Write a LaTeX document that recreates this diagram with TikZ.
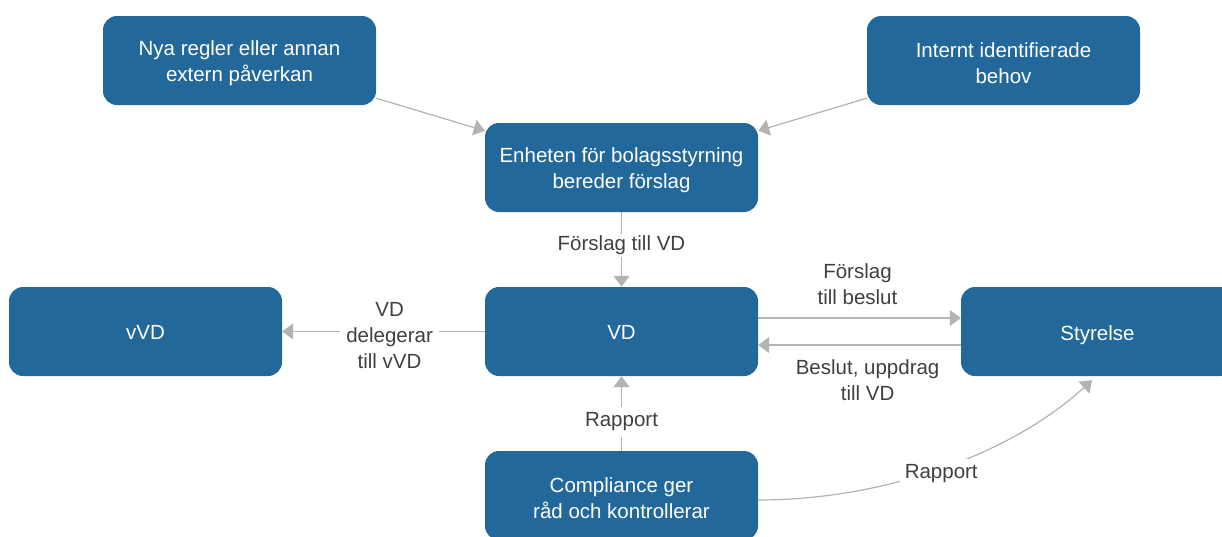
\documentclass[tikz,border=0pt]{standalone}
\usepackage{fontspec}
\setmainfont{Liberation Sans}
\usetikzlibrary{arrows.meta}
\definecolor{boxblue}{HTML}{23689B}
\definecolor{arrgray}{HTML}{B3B3B3}
\definecolor{labgray}{HTML}{404040}
\begin{document}
\begin{tikzpicture}[x=1pt,y=-1pt,
  box/.style={fill=boxblue,rounded corners=14pt,minimum width=273pt,minimum height=89pt,inner sep=0pt},
  btext/.style={text=white,align=center,font=\fontsize{20.5pt}{26pt}\selectfont,inner sep=0pt},
  arr/.style={draw=arrgray,line width=1.2pt,-{Triangle[length=11pt,width=16pt]}},
  lab/.style={fill=white,text=labgray,align=center,font=\fontsize{20.5pt}{26pt}\selectfont,inner sep=2pt}]
\clip (0,0) rectangle (1222,536);
\fill[white] (0,0) rectangle (1222,536);
\node[box] (nya) at (239.5,60.5) {};
\node[btext] (nyaT) at ([yshift=-3pt]nya.center) {Nya regler eller annan\\extern påverkan};
\node[box] (intern) at (1003.5,60.5) {};
\node[btext] (internT) at ([yshift=-3pt]intern.center) {Internt identifierade\\behov};
\node[box] (enh) at (621.5,167.5) {};
\node[btext] (enhT) at ([yshift=-3pt]enh.center) {Enheten för bolagsstyrning\\bereder förslag};
\node[box] (vvd) at (145.5,331.5) {};
\node[btext] (vvdT) at ([yshift=-1pt]vvd.center) {vVD};
\node[box] (vd) at (621.5,331.5) {};
\node[btext] (vdT) at ([yshift=-1pt]vd.center) {VD};
\node[box] (sty) at (1097.5,331.5) {};
\node[btext] (styT) at ([yshift=-4pt]sty.center) {Styrelse};
\node[box] (comp) at (621.5,495.5) {};
\node[btext] (compT) at ([yshift=-3pt]comp.center) {Compliance ger\\råd och kontrollerar};

\draw[arr] ([yshift=7pt]nya.south east) -- ([yshift=-8pt]enh.north west);
\draw[arr] ([yshift=7pt]intern.south west) -- ([yshift=-8pt]enh.north east);
\draw[arr] (enh.south) -- node[lab,pos=0.42,yshift=-2pt] (l1) {Förslag till VD} (vd.north);
\draw[arr] (vd.west) -- node[lab,pos=0.47,inner sep=6pt,yshift=-4.5pt] (l2) {VD\\delegerar\\till vVD} (vvd.east);
\draw[arr] ([yshift=13.5pt]vd.east) -- node[lab,pos=0.49,above=11pt,fill=none] (l3) {Förslag\\till beslut} ([yshift=13.5pt]sty.west);
\draw[arr] ([yshift=-13.5pt]sty.west) -- node[lab,pos=0.46,below=12pt,fill=none] (l4) {Beslut, uppdrag\\till VD} ([yshift=-13.5pt]vd.east);
\draw[arr] (comp.north) -- node[lab,pos=0.43,inner sep=6pt,yshift=-3pt] (l5) {Rapport} (vd.south);
\coordinate (cend) at ([xshift=-5.5pt,yshift=-4pt]sty.south);
\draw[arr] ([yshift=-4.5pt]comp.east) .. controls +(125,0) and +(-82,75) .. node[lab,pos=0.5,inner sep=5pt,yshift=-5pt] (l6) {Rapport} (cend);
\end{tikzpicture}
\end{document}
